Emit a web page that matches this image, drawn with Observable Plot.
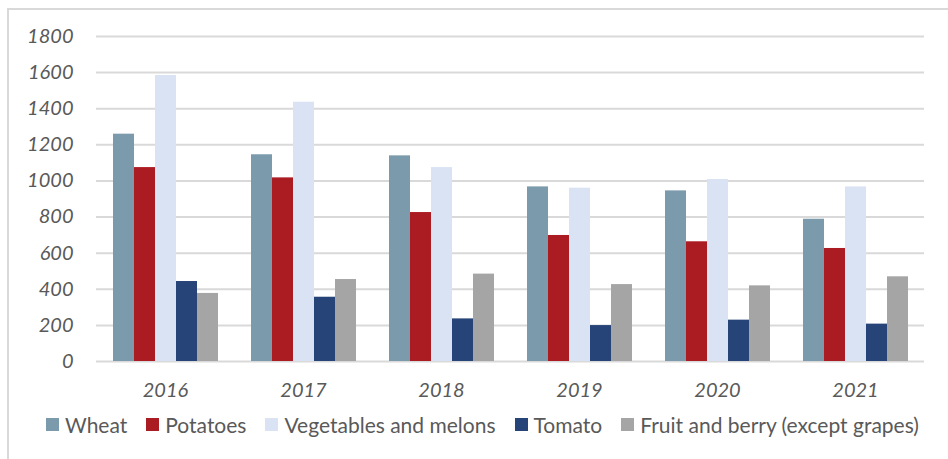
<!DOCTYPE html>
<html>
<head>
<meta charset="utf-8">
<script src="https://cdn.jsdelivr.net/npm/d3@7"></script>
<script src="https://cdn.jsdelivr.net/npm/@observablehq/plot@0.6"></script>
<style>
  html, body { margin: 0; padding: 0; background: #fff; overflow: hidden; width: 948px; height: 459px; }
  #frame { position: absolute; left: 7px; top: 8px; width: 980px; height: 480px; border: 2px solid #d9d9d9; box-sizing: border-box; }
  #chart { position: absolute; left: 0; top: 0; }
  #legend { position: absolute; left: 46px; top: 412px; display: flex; align-items: center; font-family: Lato, sans-serif; font-size: 21px; color: #595959; white-space: nowrap; }
  .item { display: flex; align-items: center; margin-right: 19px; }
  .sw { width: 13px; height: 13px; margin-right: 6px; }
</style>
</head>
<body>
<div id="frame"></div>
<div id="chart"></div>
<div id="legend"></div>
<script>
const years = ["2016", "2017", "2018", "2019", "2020", "2021"];
const crops = ["Wheat", "Potatoes", "Vegetables and melons", "Tomato", "Fruit and berry (except grapes)"];
const wheat = [1259, 1145, 1139, 967, 945, 788];
const potatoes = [1074, 1017, 825, 698, 663, 626];
const vegetables = [1584, 1436, 1074, 960, 1008, 967];
const tomato = [443, 356, 236, 199, 229, 207];
const fruit = [377, 454, 484, 426, 419, 469];
const colors = ["#7b9aab", "#ab1c22", "#dae3f3", "#264478", "#a5a5a5"];
const yTicks = [0, 200, 400, 600, 800, 1000, 1200, 1400, 1600, 1800];

const series = [wheat, potatoes, vegetables, tomato, fruit];
const data = [];
years.forEach((yr, i) => {
  crops.forEach((c, j) => data.push({ year: yr, crop: c, value: series[j][i] }));
});

const chart = Plot.plot({
  width: 948,
  height: 405,
  marginLeft: 96,
  marginRight: 24,
  marginTop: 36,
  marginBottom: 44,
  style: { fontFamily: "Lato, sans-serif", color: "#595959", background: "transparent" },
  fx: { domain: years, padding: 0, label: null },
  x: { domain: crops, axis: null, paddingInner: 0, paddingOuter: 0.74 },
  y: { domain: [0, 1800] },
  color: { domain: crops, range: colors },
  marks: [
    Plot.gridY(yTicks, { stroke: "#d9d9d9", strokeWidth: 2, strokeOpacity: 1 }),
    Plot.barY(data, { fx: "year", x: "crop", y: "value", fill: "crop", insetLeft: 0, insetRight: 0 }),
    Plot.axisY(yTicks, { tickSize: 0, tickPadding: 23, tickFormat: d => String(d), fontStyle: "italic", fontSize: 20, fill: "#595959", label: null }),
    Plot.axisFx({ anchor: "bottom", tickSize: 0, tickPadding: 21, fontStyle: "italic", fontSize: 20, fill: "#595959", label: null })
  ]
});
document.getElementById("chart").appendChild(chart);

const legend = document.getElementById("legend");
crops.forEach((c, j) => {
  const it = document.createElement("div");
  it.className = "item";
  const sw = document.createElement("div");
  sw.className = "sw";
  sw.style.background = colors[j];
  const t = document.createElement("span");
  t.textContent = c;
  it.appendChild(sw);
  it.appendChild(t);
  legend.appendChild(it);
});
</script>
</body>
</html>
